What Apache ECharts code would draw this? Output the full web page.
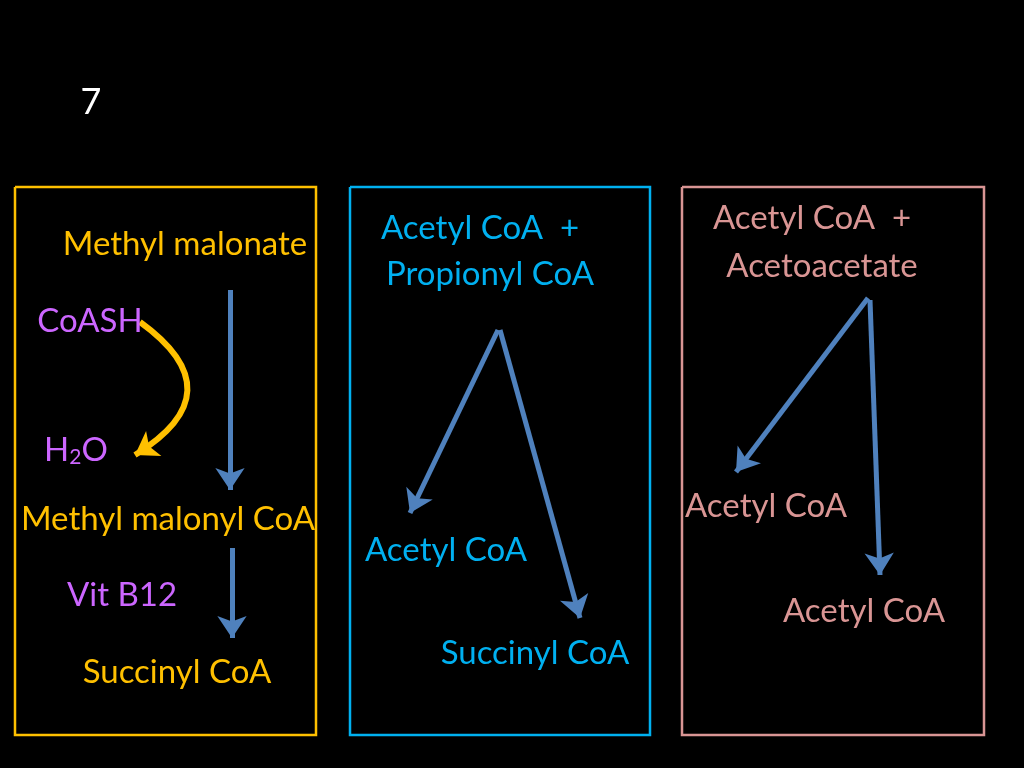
<!DOCTYPE html>
<html><head><meta charset="utf-8">
<script src="https://cdn.jsdelivr.net/npm/echarts@6/dist/echarts.min.js"></script>
<style>html,body{margin:0;background:#000}#c{width:1024px;height:768px}</style>
</head><body><div id="c"></div>
<script>
const labels = ['7','Methyl malonate','Methyl malonyl CoA','Succinyl CoA','CoASH','H2O','Vit B12',
  'Acetyl CoA  +','Propionyl CoA','Acetyl CoA','Succinyl CoA',
  'Acetyl CoA  +','Acetoacetate','Acetyl CoA','Acetyl CoA'];
const labelX = [91,185,168,177,90,76,122,480,490,446,535,812,822,766,864];
const labelY = [102,244,519,672,321,450,595,228,274,550,653,218,266,506,611];
const labelColor = ['#fff','#FFC000','#FFC000','#FFC000','#CC66FF','#CC66FF','#CC66FF',
  '#00B0F0','#00B0F0','#00B0F0','#00B0F0','#D99594','#D99594','#D99594','#D99594'];
const boxes = [[15,316,'#FFC000'],[350,650,'#00B0F0'],[682,984,'#D99594']];
const boxTop = 187, boxBottom = 735;
const arrows = [[[230,290],[230,490]],[[232,548],[232,638]],[[498,330],[410,513]],
  [[500,330],[580,618]],[[868,298],[736,472]],[[870,300],[880,575]]];
const curveArrow = [[140,322],[135,455]];

const textData = labels.map((t,i)=>({value:[labelX[i],labelY[i]],name:t,
  label:{color:labelColor[i],fontSize:i===0?36:33,
   formatter: t==='H2O' ? '{a|H}{s|2}{a|O}' : t,
   rich: t==='H2O'?{a:{color:labelColor[i],fontSize:33,fontFamily:'Lato'},s:{color:labelColor[i],fontSize:21,fontFamily:'Lato',padding:[14,0,0,0]}}:undefined}}));
const boxData = boxes.map(b=>({coords:[[b[0],boxTop],[b[1],boxTop],[b[1],boxBottom],[b[0],boxBottom],[b[0],boxTop]],lineStyle:{color:b[2]}}));

const chart = echarts.init(document.getElementById('c'));
chart.setOption({
  backgroundColor:'#000',animation:false,
  grid:{left:0,right:0,top:0,bottom:0},
  xAxis:{type:'value',min:0,max:1024,show:false},
  yAxis:{type:'value',min:0,max:768,inverse:true,show:false},
  series:[
    {type:'lines',coordinateSystem:'cartesian2d',polyline:true,lineStyle:{width:2.5,opacity:1},data:boxData,z:1},
    {type:'lines',coordinateSystem:'cartesian2d',symbol:['none','arrow'],symbolSize:22,
     lineStyle:{color:'#4F81BD',width:5,opacity:1},data:arrows.map(a=>({coords:a})),z:2},
    {type:'lines',coordinateSystem:'cartesian2d',symbol:['none','arrow'],symbolSize:22,
     lineStyle:{color:'#FFC000',width:6,opacity:1,curveness:0.75},data:[{coords:curveArrow}],z:2},
    {type:'scatter',symbolSize:0,itemStyle:{opacity:1},data:textData,z:3,
     label:{show:true,position:'inside',fontFamily:'Lato',opacity:1}}
  ]
});
</script></body></html>
